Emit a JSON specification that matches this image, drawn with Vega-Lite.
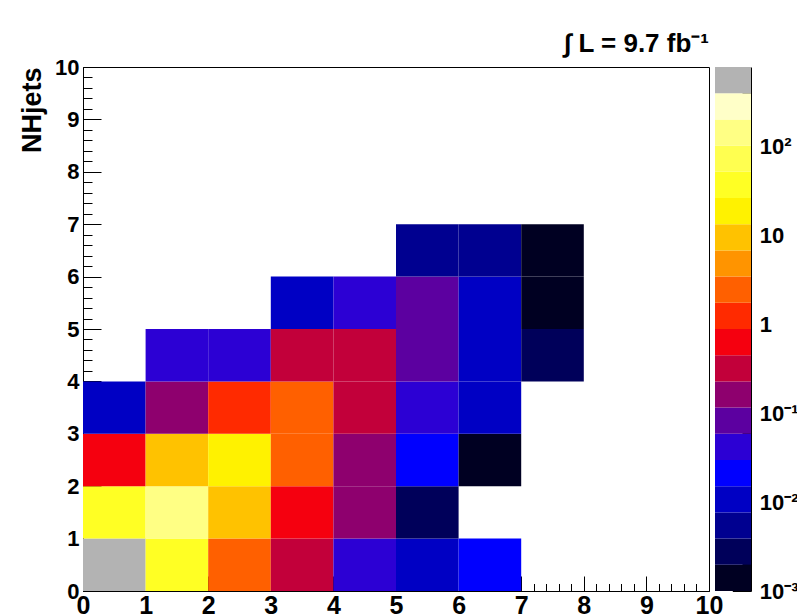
{
  "$schema": "https://vega.github.io/schema/vega-lite/v6.json",
  "background": "white",
  "padding": {"left": 18, "top": 30, "right": 0, "bottom": 0},
  "spacing": 6,
  "bounds": "flush",
  "config": {"font": "Liberation Sans"},
  "datasets": {
    "cells": [
      {"x0": 0, "x1": 1, "y0": 0, "y1": 1, "z": 560},
      {"x0": 1, "x1": 2, "y0": 0, "y1": 1, "z": 36},
      {"x0": 2, "x1": 3, "y0": 0, "y1": 1, "z": 2.4},
      {"x0": 3, "x1": 4, "y0": 0, "y1": 1, "z": 0.31},
      {"x0": 4, "x1": 5, "y0": 0, "y1": 1, "z": 0.042},
      {"x0": 5, "x1": 6, "y0": 0, "y1": 1, "z": 0.011},
      {"x0": 6, "x1": 7, "y0": 0, "y1": 1, "z": 0.021},
      {"x0": 0, "x1": 1, "y0": 1, "y1": 2, "z": 39},
      {"x0": 1, "x1": 2, "y0": 1, "y1": 2, "z": 140},
      {"x0": 2, "x1": 3, "y0": 1, "y1": 2, "z": 9.2},
      {"x0": 3, "x1": 4, "y0": 1, "y1": 2, "z": 0.62},
      {"x0": 4, "x1": 5, "y0": 1, "y1": 2, "z": 0.16},
      {"x0": 5, "x1": 6, "y0": 1, "y1": 2, "z": 0.0028},
      {"x0": 0, "x1": 1, "y0": 2, "y1": 3, "z": 0.66},
      {"x0": 1, "x1": 2, "y0": 2, "y1": 3, "z": 10},
      {"x0": 2, "x1": 3, "y0": 2, "y1": 3, "z": 19},
      {"x0": 3, "x1": 4, "y0": 2, "y1": 3, "z": 2.6},
      {"x0": 4, "x1": 5, "y0": 2, "y1": 3, "z": 0.17},
      {"x0": 5, "x1": 6, "y0": 2, "y1": 3, "z": 0.022},
      {"x0": 6, "x1": 7, "y0": 2, "y1": 3, "z": 0.0014},
      {"x0": 0, "x1": 1, "y0": 3, "y1": 4, "z": 0.0105},
      {"x0": 1, "x1": 2, "y0": 3, "y1": 4, "z": 0.15},
      {"x0": 2, "x1": 3, "y0": 3, "y1": 4, "z": 1.25},
      {"x0": 3, "x1": 4, "y0": 3, "y1": 4, "z": 2.3},
      {"x0": 4, "x1": 5, "y0": 3, "y1": 4, "z": 0.33},
      {"x0": 5, "x1": 6, "y0": 3, "y1": 4, "z": 0.04},
      {"x0": 6, "x1": 7, "y0": 3, "y1": 4, "z": 0.0108},
      {"x0": 1, "x1": 2, "y0": 4, "y1": 5, "z": 0.043},
      {"x0": 2, "x1": 3, "y0": 4, "y1": 5, "z": 0.044},
      {"x0": 3, "x1": 4, "y0": 4, "y1": 5, "z": 0.30},
      {"x0": 4, "x1": 5, "y0": 4, "y1": 5, "z": 0.34},
      {"x0": 5, "x1": 6, "y0": 4, "y1": 5, "z": 0.08},
      {"x0": 6, "x1": 7, "y0": 4, "y1": 5, "z": 0.0112},
      {"x0": 7, "x1": 8, "y0": 4, "y1": 5, "z": 0.0027},
      {"x0": 3, "x1": 4, "y0": 5, "y1": 6, "z": 0.0103},
      {"x0": 4, "x1": 5, "y0": 5, "y1": 6, "z": 0.041},
      {"x0": 5, "x1": 6, "y0": 5, "y1": 6, "z": 0.085},
      {"x0": 6, "x1": 7, "y0": 5, "y1": 6, "z": 0.0109},
      {"x0": 7, "x1": 8, "y0": 5, "y1": 6, "z": 0.0013},
      {"x0": 5, "x1": 6, "y0": 6, "y1": 7, "z": 0.0055},
      {"x0": 6, "x1": 7, "y0": 6, "y1": 7, "z": 0.0053},
      {"x0": 7, "x1": 8, "y0": 6, "y1": 7, "z": 0.0015}
    ],
    "bands": [
      {"lo": 0.001, "hi": 0.001971, "z": 0.0014},
      {"lo": 0.001971, "hi": 0.003886, "z": 0.0028},
      {"lo": 0.003886, "hi": 0.007657, "z": 0.0055},
      {"lo": 0.007657, "hi": 0.0151, "z": 0.0107},
      {"lo": 0.0151, "hi": 0.02975, "z": 0.0212},
      {"lo": 0.02975, "hi": 0.05864, "z": 0.0418},
      {"lo": 0.05864, "hi": 0.1156, "z": 0.0823},
      {"lo": 0.1156, "hi": 0.2278, "z": 0.162},
      {"lo": 0.2278, "hi": 0.4491, "z": 0.32},
      {"lo": 0.4491, "hi": 0.8851, "z": 0.631},
      {"lo": 0.8851, "hi": 1.745, "z": 1.24},
      {"lo": 1.745, "hi": 3.439, "z": 2.45},
      {"lo": 3.439, "hi": 6.779, "z": 4.83},
      {"lo": 6.779, "hi": 13.36, "z": 9.51},
      {"lo": 13.36, "hi": 26.34, "z": 18.7},
      {"lo": 26.34, "hi": 51.9, "z": 37},
      {"lo": 51.9, "hi": 102.3, "z": 72.9},
      {"lo": 102.3, "hi": 201.6, "z": 144},
      {"lo": 201.6, "hi": 397.5, "z": 283},
      {"lo": 397.5, "hi": 783.4, "z": 558}
    ]
  },
  "hconcat": [
    {
      "width": 626,
      "height": 524,
      "view": {"stroke": "black", "strokeWidth": 1},
      "title": {"text": "∫ L = 9.7 fb⁻¹", "anchor": "end", "frame": "group", "fontSize": 26, "font": "Liberation Sans", "fontWeight": "bold", "baseline": "alphabetic", "offset": -22, "color": "black"},
      "data": {"name": "cells"},
      "layer": [
        {
          "mark": {"type": "rect", "strokeWidth": 0},
          "encoding": {
            "x": {"field": "x0", "type": "quantitative", "scale": {"domain": [0, 10], "nice": false, "zero": false},
              "axis": {"orient": "bottom", "values": [0,1,2,3,4,5,6,7,8,9,10], "format": "d", "tickSize": -15, "tickColor": "black", "tickWidth": 1, "domainColor": "black", "grid": false, "labelFont": "Liberation Sans", "labelFontWeight": "bold", "labelFontSize": 25, "labelColor": "black", "labelPadding": 17, "labelFlush": false, "labelOverlap": false, "title": null}},
            "x2": {"field": "x1"},
            "y": {"field": "y0", "type": "quantitative", "scale": {"domain": [0, 10], "nice": false, "zero": false},
              "axis": {"orient": "left", "values": [0,1,2,3,4,5,6,7,8,9,10], "format": "d", "tickSize": -18, "tickColor": "black", "tickWidth": 1, "domainColor": "black", "grid": false, "labelFont": "Liberation Sans", "labelFontWeight": "bold", "labelFontSize": 22, "labelColor": "black", "labelPadding": 22, "labelFlush": false, "labelOverlap": false,
                "title": "NHjets", "titleFont": "Liberation Sans", "titleFontWeight": "bold", "titleFontSize": 27, "titleColor": "black", "titleAnchor": "end", "titlePadding": 8}},
            "y2": {"field": "y1"},
            "color": {"field": "z", "type": "quantitative", "legend": null,
              "scale": {"type": "threshold",
                "domain": [0.001971, 0.003886, 0.007657, 0.0151, 0.02975, 0.05864, 0.1156, 0.2278, 0.4491, 0.8851, 1.745, 3.439, 6.779, 13.36, 26.34, 51.9, 102.3, 201.6, 397.5],
                "range": ["#000022", "#00005a", "#000090", "#0000c4", "#0000ff", "#2c00d4", "#5c00a0", "#8e006e", "#c2003a", "#f5000f", "#ff2a00", "#ff6000", "#ff9400", "#ffc200", "#fff200", "#ffff24", "#ffff50", "#ffff84", "#ffffc8", "#b3b3b3"]}}
          }
        },
        {
          "mark": {"type": "rect", "opacity": 0},
          "encoding": {
            "x": {"field": "x0", "type": "quantitative",
              "axis": {"orient": "bottom", "values": [0.2,0.4,0.6,0.8,1.2,1.4,1.6,1.8,2.2,2.4,2.6,2.8,3.2,3.4,3.6,3.8,4.2,4.4,4.6,4.8,5.2,5.4,5.6,5.8,6.2,6.4,6.6,6.8,7.2,7.4,7.6,7.8,8.2,8.4,8.6,8.8,9.2,9.4,9.6,9.8], "tickSize": -7.5, "tickColor": "black", "tickWidth": 1, "labels": false, "domain": false, "grid": false, "title": null}},
            "x2": {"field": "x1"},
            "y": {"field": "y0", "type": "quantitative",
              "axis": {"orient": "left", "values": [0.2,0.4,0.6,0.8,1.2,1.4,1.6,1.8,2.2,2.4,2.6,2.8,3.2,3.4,3.6,3.8,4.2,4.4,4.6,4.8,5.2,5.4,5.6,5.8,6.2,6.4,6.6,6.8,7.2,7.4,7.6,7.8,8.2,8.4,8.6,8.8,9.2,9.4,9.6,9.8], "tickSize": -9, "tickColor": "black", "tickWidth": 1, "labels": false, "domain": false, "grid": false, "title": null}},
            "y2": {"field": "y1"}
          }
        }
      ],
      "resolve": {"axis": {"x": "independent", "y": "independent"}}
    },
    {
      "width": 36,
      "height": 524,
      "view": {"stroke": null},
      "data": {"name": "bands"},
      "encoding": {
        "x": {"datum": 0, "type": "quantitative", "scale": {"domain": [0, 1], "nice": false, "zero": false}, "axis": null},
        "x2": {"datum": 1}
      },
      "layer": [
        {
          "mark": {"type": "rect", "strokeWidth": 0},
          "encoding": {
            "y": {"field": "lo", "type": "quantitative", "scale": {"type": "log", "domain": [0.001, 783.4], "nice": false, "zero": false},
              "axis": {"orient": "right", "values": [0.001, 0.01, 0.1, 1, 10, 100], "tickSize": -18.7, "tickColor": "black", "tickWidth": 1, "domainColor": "black", "grid": false, "labelFont": "Liberation Sans", "labelFontWeight": "bold", "labelFontSize": 22, "labelColor": "black", "labelPadding": 27, "labelFlush": false, "labelOverlap": false, "title": null,
                "labelExpr": "datum.value == 1 ? '1' : datum.value == 10 ? '10' : datum.value == 100 ? '10²' : datum.value == 0.1 ? '10⁻¹' : datum.value == 0.01 ? '10⁻²' : '10⁻³'"}},
            "y2": {"field": "hi"},
            "color": {"field": "z", "type": "quantitative", "legend": null,
              "scale": {"type": "threshold",
                "domain": [0.001971, 0.003886, 0.007657, 0.0151, 0.02975, 0.05864, 0.1156, 0.2278, 0.4491, 0.8851, 1.745, 3.439, 6.779, 13.36, 26.34, 51.9, 102.3, 201.6, 397.5],
                "range": ["#000022", "#00005a", "#000090", "#0000c4", "#0000ff", "#2c00d4", "#5c00a0", "#8e006e", "#c2003a", "#f5000f", "#ff2a00", "#ff6000", "#ff9400", "#ffc200", "#fff200", "#ffff24", "#ffff50", "#ffff84", "#ffffc8", "#b3b3b3"]}}
          }
        },
        {
          "mark": {"type": "rect", "opacity": 0},
          "encoding": {
            "y": {"field": "lo", "type": "quantitative",
              "axis": {"orient": "right", "values": [0.002,0.003,0.004,0.005,0.006,0.007,0.008,0.009,0.02,0.03,0.04,0.05,0.06,0.07,0.08,0.09,0.2,0.3,0.4,0.5,0.6,0.7,0.8,0.9,2,3,4,5,6,7,8,9,20,30,40,50,60,70,80,90,200,300,400,500,600,700], "tickSize": -9, "tickColor": "black", "tickWidth": 1, "labels": false, "domain": false, "grid": false, "title": null}},
            "y2": {"field": "hi"}
          }
        }
      ],
      "resolve": {"axis": {"y": "independent"}}
    }
  ]
}
